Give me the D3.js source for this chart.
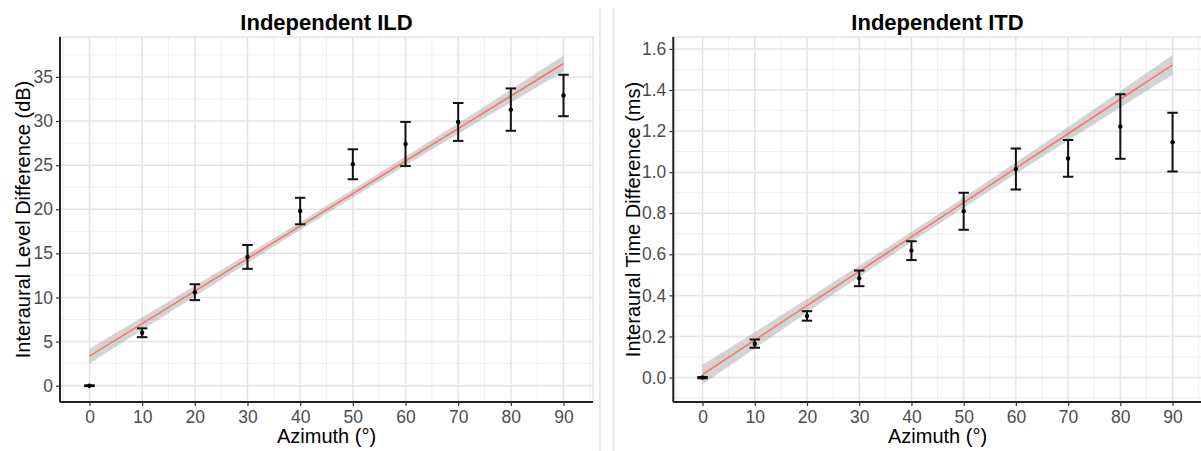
<!DOCTYPE html>
<html><head><meta charset="utf-8">
<script src="https://cdn.jsdelivr.net/npm/d3@7"></script>
<style>
html,body{margin:0;padding:0;background:#fff;}
svg{display:block;font-family:"Liberation Sans",Arial,sans-serif;}
</style></head>
<body>
<svg id="c" width="1201" height="451"></svg>
<script>
// ---- data ----
const azimuth = [0,10,20,30,40,50,60,70,80,90];
const ildMean = [0.0,6.0,10.6,14.6,19.8,25.1,27.4,29.9,31.3,32.9];
const ildErr  = [0.05,0.5,0.9,1.35,1.5,1.7,2.5,2.15,2.4,2.35];
const ildFit  = [3.35,7.04,10.72,14.41,18.09,21.78,25.47,29.15,32.84,36.52];
const ildBand = [0.85,0.72,0.6,0.5,0.45,0.45,0.5,0.6,0.75,0.9];
const itdMean = [0.0,0.165,0.30,0.483,0.618,0.81,1.015,1.067,1.222,1.146];
const itdErr  = [0.003,0.02,0.023,0.038,0.046,0.09,0.1,0.089,0.157,0.143];
const itdFit  = [0.015,0.182,0.35,0.517,0.685,0.852,1.02,1.187,1.355,1.522];
const itdBand = [0.047,0.04,0.033,0.028,0.025,0.025,0.028,0.033,0.04,0.048];
const xTicks = [0,10,20,30,40,50,60,70,80,90];
const xMinor = [-5,5,15,25,35,45,55,65,75,85,95];
const ildTicks = [0,5,10,15,20,25,30,35];
const ildMinor = [2.5,7.5,12.5,17.5,22.5,27.5,32.5,37.5];
const itdTicks = [0,0.2,0.4,0.6,0.8,1.0,1.2,1.4,1.6];
const itdMinor = [-0.1,0.1,0.3,0.5,0.7,0.9,1.1,1.3,1.5];

const svg = d3.select("#c");

// separators
[600,613.5].forEach(x=>svg.append("line").attr("x1",x).attr("x2",x).attr("y1",8).attr("y2",451)
  .attr("stroke","#e8e8e8").attr("stroke-width",2));

function panel(o){
  const {x0,x1,y0,y1,xDom,yDom,mean,err,fit,band,yTicks,yMinor,fmt,title,ylab,titleX,ylabX,clipId}=o;
  const x = d3.scaleLinear().domain(xDom).range([x0,x1]);
  const y = d3.scaleLinear().domain(yDom).range([y1,y0]);
  const g = svg.append("g");
  g.append("clipPath").attr("id",clipId).append("rect").attr("x",x0).attr("y",y0).attr("width",x1-x0).attr("height",y1-y0);
  const pg = g.append("g").attr("clip-path",`url(#${clipId})`);
  // minor grid
  pg.selectAll(".mx").data(xMinor).join("line").attr("x1",d=>x(d)).attr("x2",d=>x(d)).attr("y1",y0).attr("y2",y1)
    .attr("stroke","#efefef").attr("stroke-width",1);
  pg.selectAll(".my").data(yMinor).join("line").attr("y1",d=>y(d)).attr("y2",d=>y(d)).attr("x1",x0).attr("x2",x1)
    .attr("stroke","#efefef").attr("stroke-width",1);
  // major grid
  pg.selectAll(".Mx").data(xTicks).join("line").attr("x1",d=>x(d)).attr("x2",d=>x(d)).attr("y1",y0).attr("y2",y1)
    .attr("stroke","#e4e4e4").attr("stroke-width",1.5);
  pg.selectAll(".My").data(yTicks).join("line").attr("y1",d=>y(d)).attr("y2",d=>y(d)).attr("x1",x0).attr("x2",x1)
    .attr("stroke","#e4e4e4").attr("stroke-width",1.5);
  // border
  g.append("rect").attr("x",x0).attr("y",y0).attr("width",x1-x0).attr("height",y1-y0)
    .attr("fill","none").attr("stroke","#dcdcdc").attr("stroke-width",1.2);
  // band
  const rows = azimuth.map((a,i)=>({a,f:fit[i],lo:fit[i]-band[i],hi:fit[i]+band[i],m:mean[i],e:err[i]}));
  pg.append("path").datum(rows).attr("d",d3.area().x(d=>x(d.a)).y0(d=>y(d.lo)).y1(d=>y(d.hi)).curve(d3.curveMonotoneX))
    .attr("fill","#999999").attr("fill-opacity",0.42);
  pg.append("path").datum(rows).attr("d",d3.line().x(d=>x(d.a)).y(d=>y(d.f)))
    .attr("fill","none").attr("stroke","#f8766d").attr("stroke-width",1.6);
  // error bars
  const cw = 1;
  const eb = pg.selectAll(".eb").data(rows).join("g");
  eb.append("line").attr("x1",d=>x(d.a)).attr("x2",d=>x(d.a)).attr("y1",d=>y(d.m-d.e)).attr("y2",d=>y(d.m+d.e))
    .attr("stroke","#111").attr("stroke-width",2);
  eb.append("line").attr("x1",d=>x(d.a-cw)).attr("x2",d=>x(d.a+cw)).attr("y1",d=>y(d.m+d.e)).attr("y2",d=>y(d.m+d.e))
    .attr("stroke","#111").attr("stroke-width",2);
  eb.append("line").attr("x1",d=>x(d.a-cw)).attr("x2",d=>x(d.a+cw)).attr("y1",d=>y(d.m-d.e)).attr("y2",d=>y(d.m-d.e))
    .attr("stroke","#111").attr("stroke-width",2);
  eb.append("circle").attr("cx",d=>x(d.a)).attr("cy",d=>y(d.m)).attr("r",2.2).attr("fill","#000");
  // axes
  const ax = g.append("g").attr("transform",`translate(0,${y1})`)
    .call(d3.axisBottom(x).tickValues(xTicks).tickSize(4).tickPadding(5).tickFormat(d3.format("d")));
  const ay = g.append("g").attr("transform",`translate(${x0},0)`)
    .call(d3.axisLeft(y).tickValues(yTicks).tickSize(4).tickPadding(3).tickFormat(fmt));
  [ax,ay].forEach(a=>{
    a.select(".domain").attr("stroke","#222").attr("stroke-width",2);
    a.selectAll(".tick line").attr("stroke","#333").attr("stroke-width",1.2);
    a.selectAll(".tick text").attr("fill","#4d4d4d").style("font-size","17.5px").style("font-family","Liberation Sans, Arial, sans-serif");
  });
  ax.select(".domain").attr("d",`M${x0},0H${x1}`);
  ay.select(".domain").attr("d",`M0,${y0}V${y1}`);
  // titles
  svg.append("text").attr("x",titleX).attr("y",30).attr("text-anchor","middle")
    .style("font-weight","bold").style("font-size","22px").attr("fill","#000").text(title);
  svg.append("text").attr("x",titleX).attr("y",443).attr("text-anchor","middle")
    .style("font-size","20px").attr("fill","#000").text("Azimuth (°)");
  svg.append("text").attr("transform",`translate(${ylabX},${(y0+y1)/2}) rotate(-90)`).attr("text-anchor","middle")
    .style("font-size","20px").attr("fill","#000").text(ylab);
}

panel({x0:60,x1:593,y0:37,y1:402,xDom:[-5.6,95.6],yDom:[-1.85,39.53],mean:ildMean,err:ildErr,fit:ildFit,band:ildBand,
  yTicks:ildTicks,yMinor:ildMinor,fmt:d3.format("d"),title:"Independent ILD",ylab:"Interaural Level Difference (dB)",
  titleX:326.5,ylabX:30,clipId:"c1"});
panel({x0:673.3,x1:1201.8,y0:37,y1:402,xDom:[-5.6,95.6],yDom:[-0.119,1.658],mean:itdMean,err:itdErr,fit:itdFit,band:itdBand,
  yTicks:itdTicks,yMinor:itdMinor,fmt:d3.format(".1f"),title:"Independent ITD",ylab:"Interaural Time Difference (ms)",
  titleX:937.5,ylabX:640,clipId:"c2"});
</script>
</body></html>
